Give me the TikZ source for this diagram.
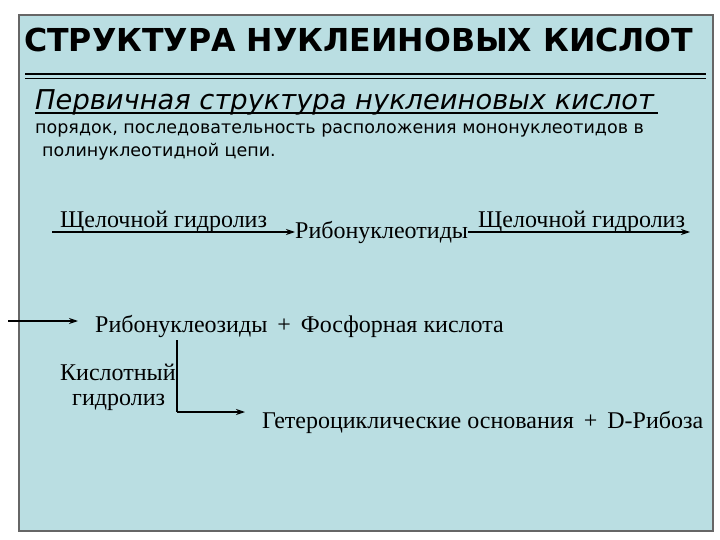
\documentclass[tikz,border=0pt]{standalone}
\usepackage{fontspec}
\setmainfont{Liberation Serif}
\newfontfamily\dv{DejaVu Sans}
\usetikzlibrary{arrows.meta}
\definecolor{bgblue}{RGB}{186,222,226}
\tikzset{t/.style={inner sep=0pt,anchor=base west},
ar/.style={-{Stealth[length=9pt,width=6pt]},line width=1.1pt},
ser/.style={t,font=\fontsize{24}{26}\selectfont}}
\begin{document}
\begin{tikzpicture}[x=1pt,y=-1pt]
\useasboundingbox (0,0) rectangle (720,540);
\fill[white] (0,0) rectangle (720,540);
\draw[fill=bgblue,draw=gray!80!black,line width=1.2pt] (19,15) rectangle (713,531);
\node[t,font=\dv\bfseries\fontsize{31.6}{36}\selectfont] (title) at (24,52) {СТРУКТУРА НУКЛЕИНОВЫХ КИСЛОТ};
\draw[line width=2pt] (25,74) -- (706,74);
\draw[line width=1pt] (25,79) -- (706,79);
\node[t,font=\dv\itshape\fontsize{27.3}{30}\selectfont] (sub) at (35,110) {Первичная структура нуклеиновых кислот};
\draw[line width=1.3pt] (35,113) -- (658,113);
\node[t,font=\dv\fontsize{17.5}{20}\selectfont] (b1) at (35,134) {порядок, последовательность расположения мононуклеотидов в};
\node[t,font=\dv\fontsize{17.5}{20}\selectfont] (b2) at (42,157) {полинуклеотидной цепи.};
\coordinate (a1s) at (52,232);
\node[ser] (l1) at (60,227) {Щелочной гидролиз};
\node[ser] (rn) at (295,238) {Рибонуклеотиды};
\coordinate (a2e) at (690,232);
\node[ser] (l2) at (478,227) {Щелочной гидролиз};
\draw[ar] (a1s) -- (a1s -| rn.west);
\draw[ar] (rn.east |- a2e) -- (a2e);
\coordinate (a3s) at (8,321);
\node[ser] (rz) at (95,332) {Рибонуклеозиды \,+\, Фосфорная кислота};
\draw[ar] (a3s) -- (78,321);
\coordinate (v1) at (177,340);
\coordinate (v2) at (177,412);
\node[ser] (k1) at (60,380) {Кислотный};
\node[ser] (k2) at (72,405) {гидролиз};
\node[ser] (het) at (262,428) {Гетероциклические основания \,+\, D-Рибоза};
\draw[line width=1.1pt] (v1) -- (v2);
\draw[ar] (v2) -- (245,412);
\end{tikzpicture}
\end{document}
